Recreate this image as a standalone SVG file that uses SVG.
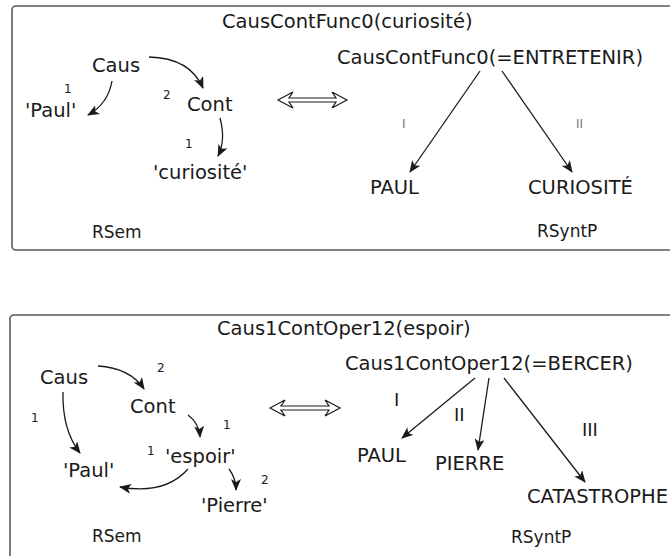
<svg xmlns="http://www.w3.org/2000/svg" width="670" height="556" viewBox="0 0 670 556">
  <defs>
    <marker id="ah" viewBox="0 0 12 10" refX="11" refY="5" markerWidth="12" markerHeight="10" markerUnits="userSpaceOnUse" orient="auto">
      <path d="M0,0 L12,5 L0,10 L3,5 z" fill="#1a1a1a"/>
    </marker>
  </defs>
  <style>
    text { font-family: "DejaVu Sans", "Liberation Sans", sans-serif; fill: #1a1a1a; }
    .t { font-size: 19.5px; }
    .lab { font-size: 17px; }
    .n { font-size: 12px; }
    .rn { font-size: 12px; fill: #777; }
    .rb { font-size: 18px; }
    .frame { fill: #fff; stroke: #5a5a5a; stroke-width: 1.6; }
    .edge { fill: none; stroke: #1a1a1a; stroke-width: 1.3; marker-end: url(#ah); }
    .dbl { fill: #fff; stroke: #1a1a1a; stroke-width: 1.2; stroke-linejoin: miter; }
  </style>

  <rect width="670" height="556" fill="#fff"/>

  <!-- upper panel -->
  <rect class="frame" x="12" y="6" width="680" height="244" rx="4"/>
  <!-- lower panel -->
  <rect class="frame" x="10" y="315" width="680" height="260" rx="4"/>

  <g id="connectors">
    <!-- upper semantic graph -->
    <path class="edge" d="M112,81 Q108,104 88,115"/>
    <path class="edge" d="M149,57 Q190,58 203,88"/>
    <path class="edge" d="M220,118 Q226,140 218,156"/>
    <!-- upper syntactic tree -->
    <path class="edge" d="M480,71 L410,172"/>
    <path class="edge" d="M502,71 L572,172"/>
    <!-- lower semantic graph -->
    <path class="edge" d="M63,392 Q62,430 80,453"/>
    <path class="edge" d="M98,366 Q130,368 144,389"/>
    <path class="edge" d="M188,415 Q199,423 200,437"/>
    <path class="edge" d="M188,469 Q165,495 120,487"/>
    <path class="edge" d="M229,469 Q236,478 236,490"/>
    <!-- lower syntactic tree -->
    <path class="edge" d="M475,378 L402,438"/>
    <path class="edge" d="M489,378 L478,450"/>
    <path class="edge" d="M504,378 L585,482"/>
    <!-- equivalence arrows -->
    <polygon class="dbl" points="278,100 293,92 289,98 336,98 332,92 347,100 332,108 336,102 289,102 293,108"/>
    <polygon class="dbl" points="270,408 285,400 281,406 329,406 325,400 340,408 325,416 329,410 281,410 285,416"/>
  </g>

  <!-- upper panel labels -->
  <g id="title1"><text class="t" x="222" y="28">CausContFunc0(curiosité)</text></g>
  <g id="sem1-caus"><text class="t" x="92" y="72">Caus</text></g>
  <g id="sem1-paul"><text class="t" x="25" y="117">'Paul'</text></g>
  <g id="sem1-cont"><text class="t" x="187" y="111">Cont</text></g>
  <g id="sem1-curiosite"><text class="t" x="153" y="179">'curiosité'</text></g>
  <g id="sem1-nums">
    <text class="n" x="64" y="93">1</text>
    <text class="n" x="163" y="99">2</text>
    <text class="n" x="185" y="148">1</text>
  </g>
  <g id="rsem1"><text class="lab" x="92" y="238">RSem</text></g>
  <g id="synt1-root"><text class="t" x="337" y="64">CausContFunc0(=ENTRETENIR)</text></g>
  <g id="synt1-paul"><text class="t" x="370" y="194">PAUL</text></g>
  <g id="synt1-curiosite"><text class="t" x="528" y="194">CURIOSITÉ</text></g>
  <g id="synt1-rels">
    <text class="rn" x="402" y="128">I</text>
    <text class="rn" x="576" y="128">II</text>
  </g>
  <g id="rsynt1"><text class="lab" x="537" y="237">RSyntP</text></g>

  <!-- lower panel labels -->
  <g id="title2"><text class="t" x="217" y="335">Caus1ContOper12(espoir)</text></g>
  <g id="sem2-caus"><text class="t" x="40" y="384">Caus</text></g>
  <g id="sem2-cont"><text class="t" x="130" y="413">Cont</text></g>
  <g id="sem2-espoir"><text class="t" x="165" y="463">'espoir'</text></g>
  <g id="sem2-paul"><text class="t" x="63" y="477">'Paul'</text></g>
  <g id="sem2-pierre"><text class="t" x="201" y="512">'Pierre'</text></g>
  <g id="sem2-nums">
    <text class="n" x="157" y="372">2</text>
    <text class="n" x="31" y="422">1</text>
    <text class="n" x="223" y="429">1</text>
    <text class="n" x="147" y="455">1</text>
    <text class="n" x="261" y="484">2</text>
  </g>
  <g id="rsem2"><text class="lab" x="92" y="542">RSem</text></g>
  <g id="synt2-root"><text class="t" x="345" y="370">Caus1ContOper12(=BERCER)</text></g>
  <g id="synt2-paul"><text class="t" x="357" y="462">PAUL</text></g>
  <g id="synt2-pierre"><text class="t" x="435" y="470">PIERRE</text></g>
  <g id="synt2-catastrophe"><text class="t" x="527" y="503">CATASTROPHE</text></g>
  <g id="synt2-rels">
    <text class="rb" x="394" y="406">I</text>
    <text class="rb" x="454" y="421">II</text>
    <text class="rb" x="582" y="436">III</text>
  </g>
  <g id="rsynt2"><text class="lab" x="511" y="543">RSyntP</text></g>
</svg>
